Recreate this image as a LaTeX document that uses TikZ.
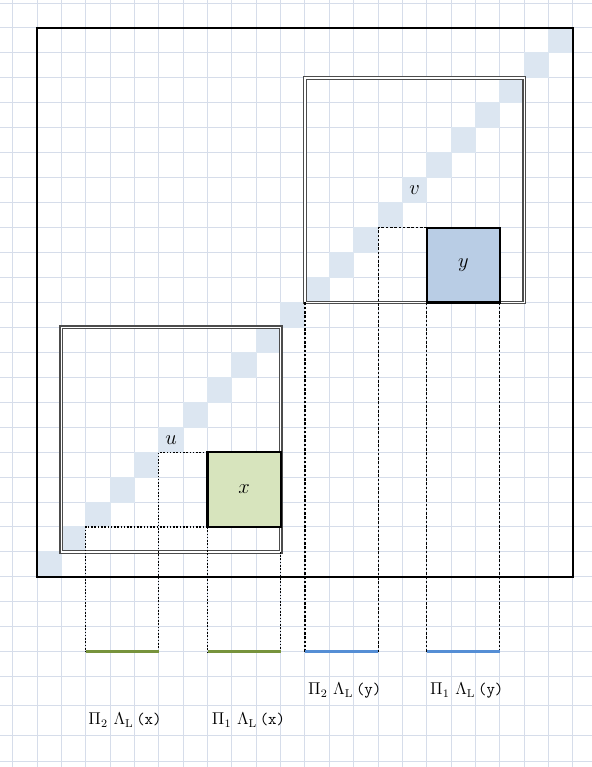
\documentclass[tikz,border=0pt]{standalone}
\definecolor{gridc}{RGB}{214,221,234}
\definecolor{diagc}{RGB}{220,230,241}
\definecolor{xfill}{RGB}{215,228,189}
\definecolor{yfill}{RGB}{185,205,229}
\definecolor{gseg}{RGB}{119,147,60}
\definecolor{bseg}{RGB}{85,142,213}
\tikzset{
  gridline/.style={draw=gridc, line width=0.7pt},
  diagcell/.style={fill=diagc, draw=diagc, line width=0.7pt},
  outerbox/.style={draw=black, line width=1.8pt},
  dblbox/.style={draw=black!70, line width=0.9pt, double=white, double distance=0.9pt},
  elembox/.style={draw=black, line width=1.5pt},
  dotline/.style={draw=black, line width=0.75pt, dash pattern=on 1.1pt off 1.2pt},
  dashline/.style={draw=black, line width=0.75pt, dash pattern=on 1.8pt off 1.2pt},
  segline/.style={line width=2pt},
  celllabel/.style={inner sep=0pt, font=\fontsize{14}{16}\selectfont},
  projlabel/.style={anchor=west, inner sep=0pt, font=\fontsize{11.5}{13}\selectfont},
}
\newcommand{\projtxt}[2]{$\Pi_{#1}\hspace{4pt}\Lambda_{\mathrm{L}}$\hspace{2pt}\texttt{(#2)}}
\begin{document}
\begin{tikzpicture}[x=0.6cm, y=0.6145cm]
\useasboundingbox (-1.519,-7.62) rectangle (22.78,23.122);
\fill[white] (-1.519,-7.62) rectangle (22.78,23.122);
% spreadsheet grid
\foreach \i in {-1,...,22} \draw[gridline] (\i,-7.62) -- (\i,23.122);
\foreach \j in {-4,...,23} \draw[gridline] (-1.519,\j) -- (22.78,\j);
\foreach \j in {-5.17,-6.34,-7.41} \draw[gridline] (-1.519,\j) -- (22.78,\j);
% diagonal cells
\foreach \k in {0,...,21} \draw[diagcell] (\k,\k) rectangle ++(1,1);
% big square
\draw[outerbox] (0,0) rectangle (22,22);
% double boxes
\draw[dblbox] (1,1) rectangle (10,10);
\draw[dblbox] (11,11) rectangle (20,20);
% element boxes
\draw[elembox, fill=xfill] (7,2) rectangle (10,5);
\draw[elembox, fill=yfill] (16,11) rectangle (19,14);
\node[celllabel] (xl) at (8.5,3.5) {$x$};
\node[celllabel] (yl) at (17.5,12.5) {$y$};
\node[celllabel] (ul) at (5.5,5.5) {$u$};
\node[celllabel] (vl) at (15.5,15.5) {$v$};
% named points
\coordinate (a2) at (2,2);
\coordinate (a5) at (5,5);
\coordinate (a7t) at (7,5);
\coordinate (a7b) at (7,2);
\coordinate (a10) at (10,1);
\coordinate (b11) at (11,11);
\coordinate (b14) at (14,14);
\coordinate (b16t) at (16,14);
\coordinate (b16) at (16,11);
\coordinate (b19) at (19,11);
\coordinate (s2) at (2,-3);
\coordinate (s5) at (5,-3);
\coordinate (s7) at (7,-3);
\coordinate (s10) at (10,-3);
\coordinate (s11) at (11,-3);
\coordinate (s14) at (14,-3);
\coordinate (s16) at (16,-3);
\coordinate (s19) at (19,-3);
% dotted projection lines
\draw[dotline] (a7b) -- (a2) -- (s2);
\draw[dotline] (a7t) -- (a5) -- (s5);
\draw[dotline] (a7b) -- (s7);
\draw[dotline] (a10) -- (s10);
\draw[dashline] (b16t) -- (b14) -- (s14);
\draw[dashline] (b11) -- (s11);
\draw[dashline] (b16) -- (s16);
\draw[dashline] (b19) -- (s19);
% projection segments
\draw[segline, gseg] (s2) -- (s5);
\draw[segline, gseg] (s7) -- (s10);
\draw[segline, bseg] (s11) -- (s14);
\draw[segline, bseg] (s16) -- (s19);
% labels
\node[projlabel] (p2x) at (2.1,-5.74) {\projtxt{2}{x}};
\node[projlabel] (p1x) at (7.17,-5.74) {\projtxt{1}{x}};
\node[projlabel] (p2y) at (11.12,-4.57) {\projtxt{2}{y}};
\node[projlabel] (p1y) at (16.13,-4.57) {\projtxt{1}{y}};
\end{tikzpicture}
\end{document}
